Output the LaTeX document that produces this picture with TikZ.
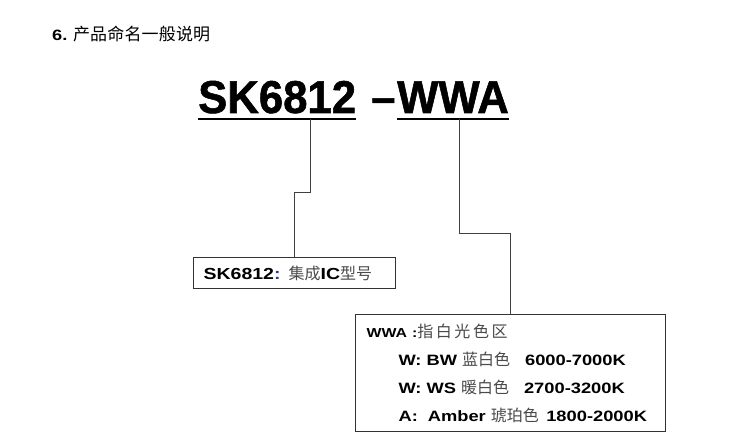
\documentclass[tikz,border=0pt]{standalone}
\usepackage{fontspec}
\setmainfont{Liberation Sans}
\newfontfamily\cjk{Noto Sans CJK SC}
\newfontfamily\heavy[FakeStretch=1.22]{Liberation Sans}
\newfontfamily\narrow[FakeStretch=0.95,FakeBold=1.2]{Liberation Sans}
\definecolor{cngray}{HTML}{4A4A4A}
\definecolor{colonblue}{HTML}{1F3F8F}
\newcommand{\zh}[1]{{\cjk\color{cngray}#1}}
\newcommand{\hv}[1]{{\heavy\bfseries #1}}

\begin{document}
\begin{tikzpicture}[x=1pt,y=-1pt,
    wire/.style={draw=black!75, line width=0.9pt},
    uline/.style={draw=black, line width=2pt},
    box/.style={draw=black!80, line width=1.1pt, anchor=north west, inner xsep=10pt},
    big/.style={inner sep=0pt, anchor=base west, font=\narrow\bfseries\fontsize{46}{46}\selectfont}]

    \useasboundingbox[fill=white] (0,0) rectangle (737,443);

    \node[anchor=west, inner sep=0pt] (title) at (52,34)
        {\fontsize{15}{15}\selectfont\hv{6.} {\cjk\fontsize{17}{17}\selectfont\addfontfeature{LetterSpace=1}产品命名一般说明}};

    \node[big] (ic) at (198,113) {SK6812};
    \node[big] (dash) at (371,113) {–};
    \node[big] (color) at (397,113) {WWA};

    \draw[uline] ([yshift=-6pt]ic.base west) -- ([yshift=-6pt]ic.base east);
    \draw[uline] ([yshift=-6pt]color.base west) -- ([yshift=-6pt]color.base east);

    \coordinate (icstem) at (310,119);
    \coordinate (colstem) at (459,119);

    \node[box, text width=182pt, minimum height=31pt, font=\fontsize{16}{16}\selectfont] (icbox) at (193,257)
        {\hv{SK6812{\color{colonblue}:}} \zh{集成}\hv{IC}\zh{型号}};

    \node[box, text width=304pt, minimum height=117pt, inner xsep=3pt, align=left,
          font=\fontsize{15}{28}\selectfont] (colbox) at (355,314) {%
        \hspace*{8pt}{\fontsize{13}{28}\selectfont\hv{WWA :}}\zh{\fontsize{16}{28}\selectfont\addfontfeature{LetterSpace=16}指白光色区}\\
        \hspace*{40pt}\hv{W: BW} \zh{\fontsize{16}{28}\selectfont 蓝白色}\quad\hv{6000-7000K}\\
        \hspace*{40pt}\hv{W: WS} \zh{\fontsize{16}{28}\selectfont 暖白色}\quad\hv{2700-3200K}\\
        \hspace*{40pt}\hv{A:\ \ Amber}\ \zh{\fontsize{16}{28}\selectfont 琥珀色}\enskip\hv{1800-2000K}};

    \draw[wire] (icstem) -- ++(0,73) -| (icbox.north);
    \draw[wire] (colstem) -- ++(0,114) -| (colbox.north);

\end{tikzpicture}
\end{document}
